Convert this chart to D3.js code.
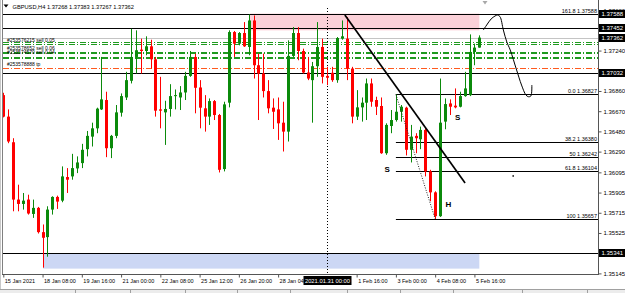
<!DOCTYPE html>
<html>
<head>
<meta charset="utf-8">
<script src="https://cdn.jsdelivr.net/npm/d3@7"></script>
<style>
html, body { margin: 0; padding: 0; background: #fff; }
svg { display: block; font-family: "Liberation Sans", Arial, sans-serif; }
</style>
</head>
<body>
<div id="chart"></div>
<script>
// GBPUSD H4, 15 Jan - 5 Feb 2021
var symbolName = "GBPUSD,H4";

var candleOpen = [
    1.36821,1.36619,1.36378,1.35839,1.35798,1.35839,1.35704,1.35761,1.35533,1.35486,
    1.35745,1.35864,1.35829,1.36051,1.36057,1.36132,1.36182,1.36313,1.36431,1.36509,
    1.36687,1.36775,1.36322,1.36438,1.36656,1.36799,1.36956,1.37180,1.37249,1.37236,
    1.37280,1.37158,1.36687,1.36659,1.36691,1.36812,1.36799,1.36846,1.37002,1.37180,
    1.36893,1.36697,1.36619,1.36765,1.36634,1.36126,1.36750,1.37414,1.37305,1.37405,
    1.37274,1.37523,1.37102,1.37024,1.36859,1.36703,1.36687,1.36562,1.36478,1.37190,
    1.37405,1.37236,1.37034,1.36962,1.37093,1.37274,1.37002,1.37031,1.36962,1.37352,
    1.37352,1.37071,1.36619,1.36706,1.36750,1.36931,1.36775,1.36719,1.36275,1.36531,
    1.36587,1.36665,1.36703,1.36307,1.36438,1.36406,1.36494,1.36104,1.35907,1.35683,
    1.36572,1.36743,1.36722,1.36712,1.36812,1.36821,1.37227,1.37268
];
var candleHigh = [
    1.36843,1.36687,1.36416,1.35979,1.35901,1.35885,1.35839,1.35770,1.35605,1.35776,
    1.35870,1.35876,1.36151,1.36135,1.36269,1.36245,1.36363,1.36484,1.36562,1.36703,
    1.37180,1.36853,1.36447,1.36728,1.36837,1.37040,1.37445,1.37430,1.37352,1.37374,
    1.37342,1.37180,1.36993,1.36768,1.36924,1.36874,1.36906,1.37040,1.37236,1.37211,
    1.36962,1.36821,1.36790,1.36775,1.36644,1.36759,1.37430,1.37424,1.37414,1.37508,
    1.37580,1.37570,1.37211,1.37211,1.36962,1.36790,1.36799,1.36759,1.37336,1.37461,
    1.37461,1.37258,1.37180,1.37133,1.37508,1.37352,1.37087,1.37087,1.37367,1.37523,
    1.37555,1.37087,1.36868,1.36799,1.36977,1.36977,1.36806,1.36799,1.36556,1.36681,
    1.36827,1.36728,1.36712,1.36541,1.36463,1.36525,1.36509,1.36119,1.35917,1.36977,
    1.36790,1.36781,1.36884,1.36853,1.37040,1.37392,1.37305,1.37383
];
var candleLow = [
    1.36612,1.36369,1.35729,1.35729,1.35745,1.35698,1.35667,1.35520,1.35199,1.35302,
    1.35698,1.35751,1.35814,1.35901,1.36026,1.36088,1.36135,1.36245,1.36338,1.36463,
    1.36681,1.36238,1.36229,1.36416,1.36619,1.36775,1.36931,1.37024,1.37024,1.37196,
    1.37071,1.36619,1.36509,1.36353,1.36619,1.36687,1.36681,1.36775,1.36993,1.36650,
    1.36509,1.36478,1.36541,1.36587,1.36094,1.36104,1.36706,1.37180,1.37289,1.37274,
    1.37196,1.36977,1.36587,1.36799,1.36650,1.36503,1.36400,1.36291,1.36385,1.37180,
    1.37149,1.37024,1.36962,1.36562,1.36993,1.36931,1.36915,1.36946,1.36937,1.37342,
    1.36962,1.36556,1.36587,1.36572,1.36587,1.36712,1.36634,1.36269,1.36260,1.36463,
    1.36572,1.36572,1.36254,1.36188,1.36275,1.36313,1.36057,1.35823,1.35657,1.35676,
    1.36500,1.36634,1.36697,1.36706,1.36806,1.36812,1.37102,1.37267
];
var candleClose = [
    1.36619,1.36385,1.35839,1.35798,1.35829,1.35708,1.35761,1.35533,1.35480,1.35745,
    1.35864,1.35820,1.36057,1.36026,1.36135,1.36188,1.36307,1.36438,1.36509,1.36694,
    1.36781,1.36322,1.36438,1.36659,1.36812,1.36962,1.37180,1.37243,1.37236,1.37280,
    1.37158,1.36675,1.36675,1.36691,1.36812,1.36821,1.36846,1.37002,1.37180,1.36890,
    1.36703,1.36619,1.36765,1.36634,1.36119,1.36734,1.37414,1.37305,1.37405,1.37280,
    1.37523,1.37102,1.37024,1.36859,1.36697,1.36665,1.36556,1.36478,1.37190,1.37405,
    1.37236,1.37034,1.36977,1.37093,1.37274,1.36993,1.36984,1.36962,1.37358,1.37374,
    1.37071,1.36619,1.36706,1.36750,1.36931,1.36759,1.36712,1.36275,1.36541,1.36587,
    1.36665,1.36712,1.36307,1.36431,1.36416,1.36494,1.36104,1.35907,1.35683,1.36562,
    1.36737,1.36712,1.36706,1.36812,1.36884,1.37227,1.37268,1.37362
];

// axis ticks (the ones hidden behind price boxes are left out)
var priceTicks = [1.37620, 1.37240, 1.36860, 1.36670, 1.36480, 1.36290,
    1.36095, 1.35905, 1.35715, 1.35525, 1.35145];
var timeTickIdx = [0, 8, 16, 24, 32, 40, 48, 56, 72, 80, 88, 96];
var timeTickLabels = ["15 Jan 2021", "18 Jan 08:00", "19 Jan 16:00", "21 Jan 00:00", "22 Jan 08:00",
    "25 Jan 12:00", "26 Jan 20:00", "28 Jan 04:00", "1 Feb 16:00",
    "3 Feb 00:00", "4 Feb 08:00", "5 Feb 16:00"];

// horizontal levels and their price boxes
var levelPrices = [1.37588, 1.37452, 1.37032, 1.35341];
var bidPrice = 1.37362;
var boxPrices = [1.37588, 1.37452, 1.37362, 1.37032, 1.35341];

// open orders
var orderPrices = [1.37316, 1.37302, 1.37231, 1.37213, 1.37184, 1.37170];
var tpPrice = 1.37073;
var orderText = ["#253576215 sell 0.05", "#253578652 sell 0.06", "#253574570 sell 0.04", "#253578888 tp"];
var orderTextPrice = [1.37325, 1.37245, 1.37208, 1.37095];

// fibonacci from bar 80 high to bar 88 low
var fibNames = ["0.0", "38.2", "50", "61.8", "100", "161.8"];
var fibPrices = [1.36827, 1.36380, 1.36242, 1.36104, 1.35657, 1.37588];
var fibStartIdx = 80, fibEndIdx = 88;

// zones
var zoneStartIdx = [50.3, 8.1];
var zoneEndIdx = [97, 97];
var zoneTop = [1.37588, 1.35330];
var zoneBottom = [1.37430, 1.35190];

// drawn objects
var trendIdx = [69.6, 94.1];
var trendPrice = [1.37574, 1.35995];
var pathIdx = [97.8, 98.5, 99.4, 100.2, 100.7, 101.2, 101.9, 102.6, 103.3, 104.6, 105.6, 106.5, 107.0, 107.5, 107.7];
var pathPrice = [1.37433, 1.37480, 1.37537, 1.37565, 1.37574, 1.37560, 1.37433, 1.37321, 1.37245,
    1.37057, 1.36916, 1.36822, 1.36806, 1.36813, 1.36916];
var markText = ["S", "S", "H"];
var markIdx = [78.2, 92.6, 90.7];
var markPrice = [1.36100, 1.36587, 1.35770];
var dotIdx = 103.9, dotPrice = 1.36061;
var crossIdx = 66, crossLabel = "2021.01.31 00:00";

var W = 625, H = 293;
var upColor = "#0b8a0b", downColor = "#ff0000";

var svg = d3.select("#chart").append("svg")
    .attr("width", W)
    .attr("height", H);

svg.append("rect").attr("width", W).attr("height", H).attr("fill", "#fff");

var x = d3.scaleLinear().domain([0, 121]).range([3.3, 597.1]);
var y = d3.scaleLinear().domain([1.35145, 1.37620]).range([273.4, 10.15]);

svg.append("clipPath").attr("id", "plotClip")
    .append("rect").attr("x", 3).attr("y", 0).attr("width", 595).attr("height", 274);

var plot = svg.append("g").attr("clip-path", "url(#plotClip)");

// zones (drawn as background)
plot.selectAll("rect.zone").data(zoneTop).enter().append("rect")
    .attr("class", "zone")
    .attr("x", function(d, i) { return x(zoneStartIdx[i]); })
    .attr("width", function(d, i) { return x(zoneEndIdx[i]) - x(zoneStartIdx[i]); })
    .attr("y", function(d) { return y(d); })
    .attr("height", function(d, i) { return y(zoneBottom[i]) - y(d); })
    .attr("fill", function(d, i) { return i == 0 ? "#fbd0d8" : "#ccd7f4"; });

function hline(g, price, x1, color, dash, cls) {
    g.append("line")
        .attr("class", cls)
        .attr("x1", x1).attr("x2", 598)
        .attr("y1", Math.round(y(price)) + 0.5)
        .attr("y2", Math.round(y(price)) + 0.5)
        .attr("stroke", color)
        .attr("stroke-width", 1)
        .attr("stroke-dasharray", dash);
}

hline(plot, bidPrice, 3, "#c4c4c4", null, "bid");
orderPrices.forEach(function(p) { hline(plot, p, 3, "#1f9a1f", "6,2,1,2", "order"); });
hline(plot, tpPrice, 3, "#ff5a1e", "6,2,1,2", "tp");
levelPrices.forEach(function(p) { hline(plot, p, 3, "#000", null, "level"); });
fibPrices.forEach(function(p) { hline(plot, p, x(fibStartIdx), "#000", null, "fib"); });

// period/crosshair separator
plot.append("line")
    .attr("x1", Math.round(x(crossIdx)) + 0.5).attr("x2", Math.round(x(crossIdx)) + 0.5)
    .attr("y1", 8).attr("y2", 274)
    .attr("stroke", "#000")
    .attr("stroke-dasharray", "1,2");

// candles
var candles = candleOpen.map(function(o, i) {
    return {i: i, o: o, h: candleHigh[i], l: candleLow[i], c: candleClose[i]};
});

plot.selectAll("line.wick").data(candles).enter().append("line")
    .attr("class", "wick")
    .attr("x1", function(d) { return Math.round(x(d.i)) + 0.5; })
    .attr("x2", function(d) { return Math.round(x(d.i)) + 0.5; })
    .attr("y1", function(d) { return y(d.h); })
    .attr("y2", function(d) { return y(d.l); })
    .attr("stroke", function(d) { return d.c >= d.o ? upColor : downColor; });

plot.selectAll("rect.body").data(candles).enter().append("rect")
    .attr("class", "body")
    .attr("x", function(d) { return Math.round(x(d.i)) - 1; })
    .attr("width", 3)
    .attr("y", function(d) { return y(Math.max(d.o, d.c)); })
    .attr("height", function(d) { return Math.max(1, Math.abs(y(d.o) - y(d.c))); })
    .attr("fill", function(d) { return d.c >= d.o ? upColor : downColor; });

// trend line, fib diagonal, hand drawn path
plot.append("line")
    .attr("x1", x(trendIdx[0])).attr("y1", y(trendPrice[0]))
    .attr("x2", x(trendIdx[1])).attr("y2", y(trendPrice[1]))
    .attr("stroke", "#000").attr("stroke-width", 1.7);

plot.append("line")
    .attr("x1", x(fibStartIdx)).attr("y1", y(fibPrices[0]))
    .attr("x2", x(fibEndIdx)).attr("y2", y(fibPrices[4]))
    .attr("stroke", "#222").attr("stroke-dasharray", "1,1.5");

var pathLine = d3.line()
    .x(function(d) { return x(d[0]); })
    .y(function(d) { return y(d[1]); })
    .curve(d3.curveCatmullRom);

plot.append("path")
    .datum(pathIdx.map(function(d, i) { return [d, pathPrice[i]]; }))
    .attr("d", pathLine)
    .attr("fill", "none")
    .attr("stroke", "#000")
    .attr("stroke-width", 1);

plot.append("rect")
    .attr("x", x(dotIdx) - 0.75).attr("y", y(dotPrice) - 0.75)
    .attr("width", 1.5).attr("height", 1.5)
    .attr("fill", "#000");

// texts in plot
plot.selectAll("text.mark").data(markText).enter().append("text")
    .attr("class", "mark")
    .attr("x", function(d, i) { return x(markIdx[i]); })
    .attr("y", function(d, i) { return y(markPrice[i]); })
    .attr("text-anchor", "middle")
    .attr("font-size", 8)
    .attr("font-weight", "bold")
    .text(function(d) { return d; });

plot.selectAll("text.order").data(orderText).enter().append("text")
    .attr("class", "order")
    .attr("x", 7)
    .attr("y", function(d, i) { return y(orderTextPrice[i]); })
    .attr("font-size", 5)
    .attr("fill", "#000")
    .text(function(d) { return d; });

plot.selectAll("text.fib").data(fibNames).enter().append("text")
    .attr("class", "fib")
    .attr("x", 597)
    .attr("y", function(d, i) { return Math.round(y(fibPrices[i])) - 1; })
    .attr("text-anchor", "end")
    .attr("font-size", 5.5)
    .text(function(d, i) { return d + " " + d3.format(".5f")(fibPrices[i]); });

// title
var last = candles.length - 1;
svg.append("path").attr("d", "M3.5,4.5 L8.5,4.5 L6,7.5 Z").attr("fill", "#000");
svg.append("text")
    .attr("x", 12.5).attr("y", 8.5)
    .attr("font-size", 5.7)
    .text(symbolName + "  " + [candleOpen[last], candleHigh[last], candleLow[last], candleClose[last]]
        .map(d3.format(".5f")).join(" "));
svg.append("path").attr("d", "M482.5,1 L487.5,1 L485,4.5 Z").attr("fill", "#a8a8a8");

// frame
svg.append("line").attr("x1", 0.5).attr("x2", 0.5).attr("y1", 0).attr("y2", 289).attr("stroke", "#c8c8c8");
svg.append("line").attr("x1", 2.5).attr("x2", 2.5).attr("y1", 0).attr("y2", 274.5).attr("stroke", "#808080");
svg.append("line").attr("x1", 598.5).attr("x2", 598.5).attr("y1", 0).attr("y2", 275).attr("stroke", "#555");
svg.append("line").attr("x1", 2).attr("x2", 599).attr("y1", 274.5).attr("y2", 274.5).attr("stroke", "#555");

// price axis
var yAxis = d3.axisRight(y)
    .tickValues(priceTicks)
    .tickFormat(d3.format(".5f"))
    .tickSize(3)
    .tickPadding(2);

var yg = svg.append("g")
    .attr("transform", "translate(598.5,0)")
    .call(yAxis);
yg.select(".domain").remove();
yg.attr("font-size", 6).attr("font-family", null);
yg.selectAll("line").attr("stroke", "#555");

// price boxes
var boxes = svg.selectAll("g.box").data(boxPrices).enter().append("g").attr("class", "box");
boxes.append("rect")
    .attr("x", 599).attr("width", 26)
    .attr("y", function(d) { return Math.round(y(d)) - 4; })
    .attr("height", 8)
    .attr("fill", "#000");
boxes.append("text")
    .attr("x", 601.5)
    .attr("y", function(d) { return Math.round(y(d)) + 2.2; })
    .attr("font-size", 6)
    .attr("fill", "#fff")
    .text(function(d) { return d3.format(".5f")(d); });

// time axis
var xAxis = d3.axisBottom(x)
    .tickValues(timeTickIdx)
    .tickFormat(function(d, i) { return timeTickLabels[i]; })
    .tickSize(3)
    .tickPadding(2);

var xg = svg.append("g")
    .attr("transform", "translate(0,274.5)")
    .call(xAxis);
xg.select(".domain").remove();
xg.attr("font-size", 5.5).attr("font-family", null);
xg.selectAll("line").attr("stroke", "#555");
xg.selectAll("text").attr("text-anchor", "start").attr("x", 1);

// crosshair time box
var cx = Math.round(x(crossIdx)) + 0.5;
svg.append("rect")
    .attr("x", cx - 24).attr("y", 276)
    .attr("width", 48).attr("height", 9)
    .attr("fill", "#000");
svg.append("text")
    .attr("x", cx).attr("y", 283)
    .attr("text-anchor", "middle")
    .attr("font-size", 5.8)
    .attr("fill", "#fff")
    .text(crossLabel);

// terminal tabs strip at the bottom
svg.append("rect").attr("x", 0).attr("y", 289).attr("width", W).attr("height", 4).attr("fill", "#ececec");
svg.append("line").attr("x1", 0).attr("x2", W).attr("y1", 289.5).attr("y2", 289.5).attr("stroke", "#a0a0a0");
[75, 130, 185, 237, 290, 347, 400, 453, 522, 587].forEach(function(tx) {
    svg.append("line").attr("x1", tx + 0.5).attr("x2", tx + 0.5).attr("y1", 290).attr("y2", 293).attr("stroke", "#a0a0a0");
});
</script>
</body>
</html>
